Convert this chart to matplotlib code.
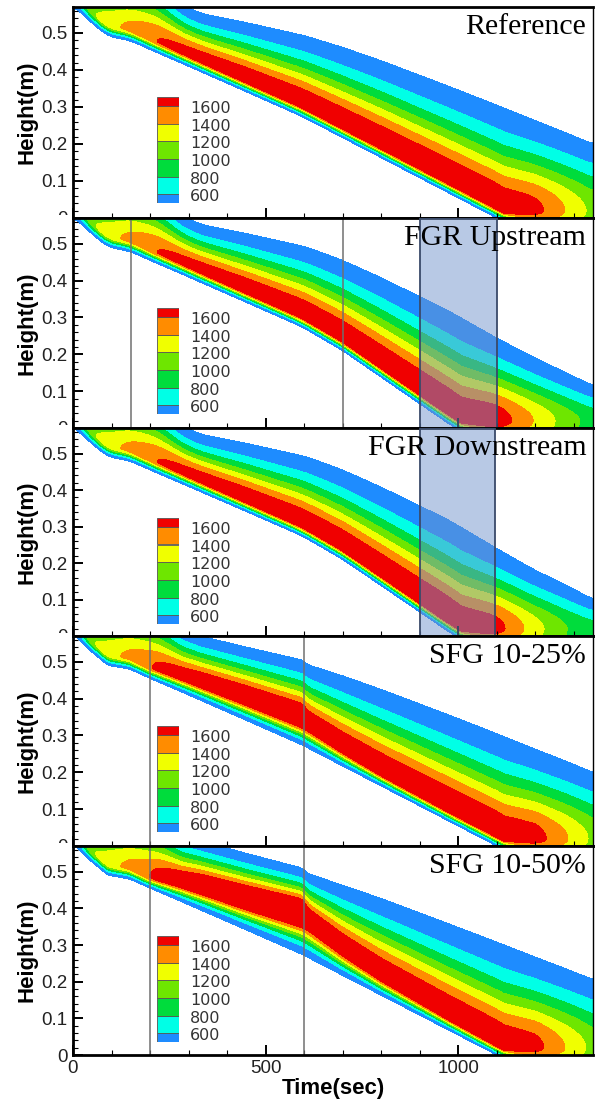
import numpy as np
import matplotlib
matplotlib.use("Agg")
import matplotlib.pyplot as plt
from matplotlib.patches import Rectangle
from matplotlib.transforms import Bbox, TransformedBbox

# ---- data ----
# column nodes (time, s); per panel: lower 400K edge (m), upper 400K edge (m),
# peak temperature (K) and height of the peak above the lower edge (m)
t_nodes = [0, 45, 91, 147, 200, 220, 282, 330, 450, 595, 610, 700, 800, 975, 1100, 1200, 1280, 1350]

ref_lo = [0.575, 0.53, 0.49, 0.48, 0.455, 0.446, 0.418, 0.396, 0.341, 0.274, 0.266, 0.217, 0.163, 0.068, 0.0, -0.054, -0.097, -0.135]
ref_hi = [0.60, 0.64, 0.67, 0.68, 0.665, 0.645, 0.577, 0.553, 0.528, 0.494, 0.49, 0.461, 0.425, 0.356, 0.305, 0.263, 0.23, 0.20]
ref_tp = [450, 1150, 1330, 1450, 1560, 1610, 1690, 1740, 1800, 1820, 1820, 1820, 1820, 1820, 1810, 1680, 1390, 1130]
ref_off = [0.03] * 18

up_lo = [0.575, 0.53, 0.49, 0.48, 0.455, 0.446, 0.418, 0.396, 0.341, 0.274, 0.265, 0.21, 0.138, 0.012, -0.07, -0.13, -0.18, -0.22]
up_hi = [0.60, 0.64, 0.67, 0.68, 0.665, 0.645, 0.577, 0.553, 0.528, 0.494, 0.49, 0.455, 0.408, 0.318, 0.244, 0.19, 0.15, 0.115]
up_tp = [450, 1150, 1330, 1450, 1560, 1610, 1690, 1740, 1800, 1820, 1820, 1820, 1820, 1820, 1740, 1380, 1100, 900]
up_off = [0.03] * 18

dn_lo = up_lo
dn_hi = [0.60, 0.64, 0.67, 0.68, 0.665, 0.645, 0.577, 0.553, 0.528, 0.494, 0.49, 0.455, 0.408, 0.318, 0.24, 0.18, 0.14, 0.10]
dn_tp = [450, 1150, 1330, 1450, 1560, 1610, 1690, 1740, 1800, 1820, 1820, 1820, 1820, 1820, 1690, 1280, 1000, 850]
dn_off = [0.03] * 18

s25_lo = ref_lo
s25_hi = [0.60, 0.64, 0.67, 0.68, 0.67, 0.65, 0.59, 0.57, 0.54, 0.505, 0.492, 0.462, 0.425, 0.356, 0.305, 0.263, 0.23, 0.20]
s25_tp = [450, 1150, 1330, 1450, 1580, 1650, 1760, 1830, 1900, 1950, 1840, 1820, 1820, 1820, 1810, 1700, 1420, 1150]
s25_off = [0.03, 0.03, 0.03, 0.03, 0.03, 0.033, 0.04, 0.045, 0.055, 0.065, 0.06, 0.045, 0.035, 0.03, 0.03, 0.03, 0.03, 0.03]

s50_lo = ref_lo
s50_hi = [0.60, 0.64, 0.67, 0.68, 0.67, 0.655, 0.60, 0.585, 0.55, 0.51, 0.495, 0.463, 0.427, 0.358, 0.308, 0.267, 0.235, 0.206]
s50_tp = [450, 1150, 1330, 1450, 1600, 1700, 1850, 1950, 2050, 2100, 1880, 1840, 1820, 1820, 1810, 1680, 1390, 1130]
s50_off = [0.03, 0.03, 0.03, 0.03, 0.03, 0.035, 0.05, 0.06, 0.08, 0.11, 0.10, 0.07, 0.05, 0.035, 0.03, 0.03, 0.03, 0.03]

titles = ["Reference", "FGR Upstream", "FGR Downstream", "SFG 10-25%", "SFG 10-50%"]
vlines = [[], [150, 700], [], [200, 600], [200, 600]]
boxes = [None, (900, 1100), (900, 1095), None, None]
smooth_s = [15, 15, 15, 6, 6]   # seconds

levels = [400, 600, 800, 1000, 1200, 1400, 1600, 3000]
band_colors = ["#1e8cff", "#00ffe6", "#00dc3c", "#6ee600", "#f0ff00", "#ff8c00", "#f00000"]
legend_labels = ["1600", "1400", "1200", "1000", "800", "600"]

panels = [(ref_lo, ref_hi, ref_tp, ref_off), (up_lo, up_hi, up_tp, up_off),
          (dn_lo, dn_hi, dn_tp, dn_off), (s25_lo, s25_hi, s25_tp, s25_off),
          (s50_lo, s50_hi, s50_tp, s50_off)]

T_amb = 300.0
tt = np.linspace(0, 1350, 900)
hh = np.linspace(0, 0.57, 450)
TT, HH = np.meshgrid(tt, hh)
dt = tt[1] - tt[0]


def smooth(y, sig):
    n = int(3 * sig / dt) + 1
    k = np.exp(-0.5 * (np.arange(-n, n + 1) * dt / sig) ** 2)
    k /= k.sum()
    return np.convolve(np.pad(y, n, mode="edge"), k, mode="valid")


def field(lo, hi, tp, off, sig):
    lo_c = smooth(np.interp(tt, t_nodes, lo), sig)
    hi_c = smooth(np.interp(tt, t_nodes, hi), sig)
    tp_c = smooth(np.interp(tt, t_nodes, tp), sig)
    off_c = smooth(np.interp(tt, t_nodes, off), sig)
    pk = np.maximum(lo_c + off_c, 0.02)
    g = np.sqrt(np.log((tp_c - T_amb) / (400 - T_amb)))
    wu = (hi_c - pk) / g
    wl = (pk - lo_c) / g
    d = HH - pk[None, :]
    w = np.where(d > 0, wu[None, :], wl[None, :])
    return T_amb + (tp_c[None, :] - T_amb) * np.exp(-(np.abs(d) / w) ** 2)


W, H = 601, 1102
fig = plt.figure(figsize=(W / 100, H / 100), dpi=100)
tops = [7, 218, 428, 636, 846]
bots = [218, 428, 636, 846, 1055]
x0, x1 = 73, 593
tick_font = dict(family="Liberation Sans", size=13.5, color="#222222")

for i in range(5):
    ax = fig.add_axes([x0 / W, 1 - bots[i] / H, (x1 - x0) / W, (bots[i] - tops[i]) / H])
    T = field(*panels[i], smooth_s[i])
    ax.contourf(tt, hh, T, levels=levels, colors=band_colors)
    ax.set_xlim(0, 1350)
    ax.set_ylim(0, 0.57)
    for v in vlines[i]:
        ax.axvline(v, color="#707070", lw=1.1)
    if boxes[i] is not None:
        b0, b1 = boxes[i]
        ax.add_patch(Rectangle((b0, 0), b1 - b0, 0.57, facecolor=(0.45, 0.58, 0.80), alpha=0.5,
                               edgecolor="none", zorder=3))
        ax.add_patch(Rectangle((b0, 0), b1 - b0, 0.57, facecolor="none", edgecolor="#3a4a6a",
                               lw=1.3, zorder=4))
    ax.text(0.987, 0.87, titles[i], transform=ax.transAxes, ha="right", va="baseline",
            family="Liberation Serif", fontsize=21.5, color="black", zorder=5)

    ax.set_yticks([0, 0.1, 0.2, 0.3, 0.4, 0.5])
    ax.set_yticks(np.arange(0, 0.57, 0.02), minor=True)
    ax.set_yticklabels(["0", "0.1", "0.2", "0.3", "0.4", "0.5"], **tick_font)
    ax.set_xticks([0, 500, 1000])
    ax.set_xticks(np.arange(0, 1351, 100), minor=True)
    ax.tick_params(which="both", direction="in", top=False, right=False)
    ax.tick_params(which="major", length=7, width=1.4)
    ax.tick_params(which="minor", length=3.5, width=0.8)
    ax.tick_params(axis="y", pad=4)
    if i < 4:
        ax.set_xticklabels([])
        clip = TransformedBbox(Bbox([[0, 1 - bots[i] / H + 3 / H], [1, 1]]), fig.transFigure)
        for lab in ax.get_yticklabels():
            lab.set_clip_box(clip)
            lab.set_clip_on(True)
    else:
        ax.set_xticklabels(["0", "500", "1000"], **tick_font)
        ax.set_xlabel("Time(sec)", family="Liberation Sans", fontsize=16, fontweight="bold", labelpad=1)
    ax.set_ylabel("Height(m)", family="Liberation Sans", fontsize=16, fontweight="bold", labelpad=3)
    for s in ["left", "bottom", "top"]:
        ax.spines[s].set_linewidth(2.0)
    ax.spines["right"].set_linewidth(1.0)

    # legend bar
    top = tops[i] + 90
    lax = fig.add_axes([157 / W, 1 - (top + 106) / H, 22 / W, 106 / H])
    heights = [0.5, 1, 1, 1, 1, 1, 0.5]
    y = 0
    for c, hgt in zip(band_colors, heights):
        lax.add_patch(Rectangle((0, y), 1, hgt, facecolor=c, edgecolor="#555555", lw=0.6))
        y += hgt
    lax.set_xlim(0, 1)
    lax.set_ylim(0, 6)
    lax.axis("off")
    for k, lab in enumerate(legend_labels):
        lax.text(1.5, 5.5 - k - 0.15, lab, ha="left", va="center", family="Liberation Sans Narrow",
                 fontsize=11.5, color="#333333", transform=lax.transData, clip_on=False)

fig.savefig("out.png", dpi=100)
